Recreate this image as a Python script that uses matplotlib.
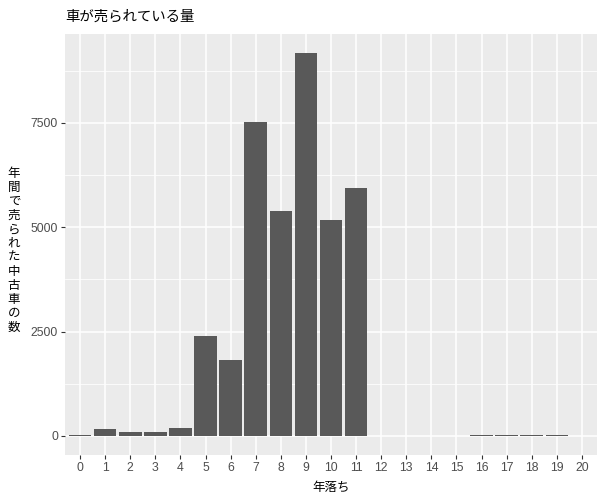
"""Bar chart of used-car sales by vehicle age, ggplot-like styling."""

import matplotlib
matplotlib.use("Agg")
import matplotlib.pyplot as plt
import numpy as np

plt.rcParams["font.family"] = ["Liberation Sans", "Noto Sans CJK JP", "DejaVu Sans"]

# Years since first registration (discrete x) and cars sold per year
AGES = [str(i) for i in range(21)]
SOLD = [20, 170, 100, 90, 190, 2400, 1820, 7510, 5380, 9170, 5180,
        5930, 0, 0, 0, 0, 15, 15, 15, 15, 0]

Y_TICKS = [0, 2500, 5000, 7500]
Y_MINOR = [1250, 3750, 6250, 8750]

TITLE = "車が売られている量"
X_LABEL = "年落ち"
Y_LABEL = "年間で売られた中古車の数"

BAR_COLOR = "#595959"
PANEL_BG = "#EBEBEB"


def main():
    fig = plt.figure(figsize=(6, 5), dpi=100)
    ax = fig.add_axes([65 / 600, 45 / 500, 532 / 600, 421 / 500])
    ax.set_facecolor(PANEL_BG)

    x = np.arange(len(AGES))
    ymax = max(SOLD)
    ax.set_xlim(-0.6, len(AGES) - 1 + 0.6)
    ax.set_ylim(-0.05 * ymax, 1.05 * ymax)

    # grid: white major + thinner minor on y, major only on discrete x
    for yv in Y_MINOR:
        ax.axhline(yv, color="white", lw=0.55, zorder=0.5)
    for yv in Y_TICKS:
        ax.axhline(yv, color="white", lw=1.1, zorder=0.6)
    for xv in x:
        ax.axvline(xv, color="white", lw=1.1, zorder=0.6)

    ax.bar(x, SOLD, width=0.9, color=BAR_COLOR, zorder=2)

    ax.set_xticks(x)
    ax.set_xticklabels(AGES)
    ax.set_yticks(Y_TICKS)
    ax.set_yticklabels([str(v) for v in Y_TICKS])
    ax.tick_params(axis="both", length=3, width=0.8, color="#333333",
                   labelcolor="#4D4D4D", labelsize=8.8, pad=2)
    for side in ax.spines.values():
        side.set_visible(False)

    fig.text(65 / 600, 1 - 17 / 500, TITLE, fontsize=10.4, ha="left",
             va="center", color="black")
    fig.text(331 / 600, 1 - 488 / 500, X_LABEL, fontsize=9, ha="center",
             va="center")
    fig.text(14 / 600, 1 - 251 / 500, "\n".join(Y_LABEL), fontsize=9,
             ha="center", va="center", linespacing=1.22)

    fig.savefig("out.png", dpi=100)
    plt.close(fig)


if __name__ == "__main__":
    main()
